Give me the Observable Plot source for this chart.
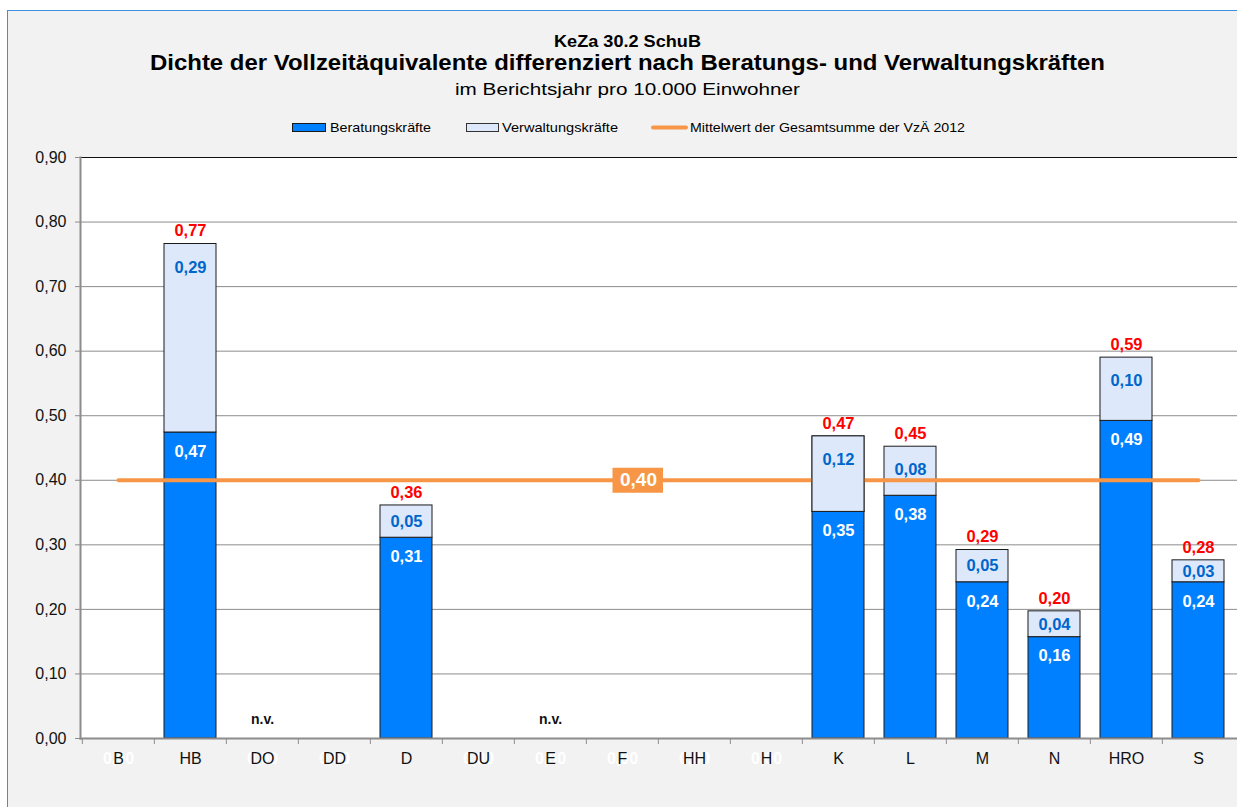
<!DOCTYPE html>
<html><head><meta charset="utf-8">
<script src="https://cdn.jsdelivr.net/npm/d3@7"></script>
<script src="https://cdn.jsdelivr.net/npm/@observablehq/plot@0.6"></script>
<style>
body{margin:0;background:#fff;width:1237px;height:807px;overflow:hidden;position:relative;font-family:"Liberation Sans",Arial,sans-serif}
#frame{position:absolute;left:7px;top:10px;right:-5px;bottom:-5px;background:#f2f2f2;border-top:1px solid #3d8fe0;border-left:1px solid #3d8fe0}
#head{position:absolute;left:0;top:0}
#chart{position:absolute;left:0;top:140px}
</style></head>
<body>
<div id="frame"></div>
<svg id="head" width="1237" height="140"></svg>
<div id="chart"></div>
<script>
// ---- data ----
const categories = ["B","HB","DO","DD","D","DU","E","F","HH","H","K","L","M","N","HRO","S"];
const beratung   = [0,0.474,0,0,0.311,0,0,0,0,0,0.351,0.376,0.242,0.157,0.492,0.242];
const verwaltung = [0,0.292,0,0,0.050,0,0,0,0,0,0.117,0.076,0.050,0.040,0.098,0.034];
const notAvailable = ["DO","E"];
const meanTotal2012 = 0.40;
const meanLabelCategory = "F";
const yTicks = [0,0.1,0.2,0.3,0.4,0.5,0.6,0.7,0.8,0.9];
const seriesNames = ["Beratungskräfte","Verwaltungskräfte","Mittelwert der Gesamtsumme der VzÄ 2012"];
const titleLines = ["KeZa 30.2 SchuB","Dichte der Vollzeitäquivalente differenziert nach Beratungs- und Verwaltungskräften","im Berichtsjahr pro 10.000 Einwohner"];

// ---- derived tables ----
const fmt = v => d3.format(".2f")(v).replace(".", ",");
const rows = categories.flatMap((c,i)=>[
  {cat:c, series:seriesNames[0], value:beratung[i]},
  {cat:c, series:seriesNames[1], value:verwaltung[i]}
]).filter(d=>d.value>0);
const totals = categories.map((c,i)=>({cat:c, b:beratung[i], v:verwaltung[i], total:beratung[i]+verwaltung[i]}));

const BLUE="#0080ff", LIGHT="#dde8fb", ORANGE="#f79646", EDGE="#1a1a1a", GRID="#8c8c8c";
const W=1237, mL=80, mR=0, n=categories.length;
const step=(W-mL-mR)/n;
const pad=0.274;

// ---- header (titles + legend) ----
const head = d3.select("#head");
const tl = [[titleLines[0],47,16.5,147,"bold"],[titleLines[1],70,22,955,"bold"],[titleLines[2],95,17,345,"normal"]];
tl.forEach(([t,y,fs,len,fw])=>{
  head.append("text").attr("x",627.5).attr("y",y).attr("text-anchor","middle")
   .attr("font-size",fs).attr("font-weight",fw).attr("fill","#000")
   .attr("textLength",len).attr("lengthAdjust","spacingAndGlyphs").text(t);
});
const lg = head.append("g").attr("font-size",13.5).attr("fill","#000");
lg.append("rect").attr("x",292.5).attr("y",123.5).attr("width",33).attr("height",8).attr("fill",BLUE).attr("stroke",EDGE);
lg.append("text").attr("x",330).attr("y",132).attr("textLength",101).attr("lengthAdjust","spacingAndGlyphs").text(seriesNames[0]);
lg.append("rect").attr("x",466.5).attr("y",123.5).attr("width",32).attr("height",8).attr("fill",LIGHT).attr("stroke","#333");
lg.append("text").attr("x",502).attr("y",132).attr("textLength",116).attr("lengthAdjust","spacingAndGlyphs").text(seriesNames[1]);
lg.append("line").attr("x1",653).attr("x2",686).attr("y1",127.5).attr("y2",127.5).attr("stroke",ORANGE).attr("stroke-width",4).attr("stroke-linecap","round");
lg.append("text").attr("x",690).attr("y",132).attr("textLength",275).attr("lengthAdjust","spacingAndGlyphs").text(seriesNames[2]);

// ---- chart ----
const chart = Plot.plot({
  width: W, height: 667,
  marginLeft: mL, marginRight: mR, marginTop: 17, marginBottom: 69,
  style: {fontFamily: "'Liberation Sans', Arial, sans-serif", fontSize: "16px", background: "transparent", overflow: "visible"},
  x: {domain: categories, paddingInner: pad, paddingOuter: pad/2, label: null},
  y: {domain: [0, 0.9], label: null},
  color: {domain: seriesNames.slice(0,2), range: [BLUE, LIGHT]},
  marks: [
    Plot.frame({fill: "white", stroke: null}),
    Plot.gridY(yTicks, {stroke: GRID, strokeOpacity: 1, strokeWidth: 1}),
    Plot.barY(rows, {x: "cat", y: "value", fill: "series", stroke: EDGE, strokeWidth: 1}),
    Plot.lineY(categories, {x: d=>d, y: ()=>meanTotal2012, stroke: ORANGE, strokeWidth: 4}),
    Plot.barY(totals.filter(d=>d.cat==="K"), {x: "cat", y1: "b", y2: "total", fill: LIGHT, stroke: EDGE, strokeWidth: 1}),
    Plot.tickY([meanTotal2012], {x: ()=>meanLabelCategory, y: d=>d, stroke: ORANGE, strokeWidth: 25, insetLeft: 16.5, insetRight: -15}),
    Plot.text([meanTotal2012], {x: ()=>meanLabelCategory, y: d=>d, text: d=>fmt(d), dx: 16, fill: "white", fontWeight: "bold", fontSize: 19}),
    Plot.ruleY([0.9], {stroke: "#111", strokeWidth: 1}),
    Plot.frame({anchor: "left", stroke: GRID, strokeWidth: 2}),
    Plot.frame({anchor: "bottom", stroke: GRID, strokeWidth: 2}),
    Plot.axisY(yTicks, {tickFormat: fmt, tickSize: 5, tickPadding: 9, stroke: GRID, fill: "#111", fontSize: 16}),
    Plot.axisX(categories, {tickSize: 6, tickFormat: ()=>"", dx: -step/2, stroke: GRID}),
    Plot.text(totals.filter(d=>d.total===0), {x: "cat", y: ()=>0, text: d=>fmt(d.total), dy: 20, fill: "white", fontWeight: "bold", fontSize: 16}),
    Plot.axisX(categories, {tickSize: 0, tickPadding: 14, fill: "#111", fontSize: 16}),
    Plot.text(notAvailable, {x: d=>d, y: ()=>0, text: ()=>"n.v.", dy: -19, fill: "#111", fontWeight: "bold", fontSize: 14}),
    Plot.text(totals.filter(d=>d.total>0), {x: "cat", y: "total", text: d=>fmt(d.total), dy: -13, fill: "#ff0000", fontWeight: "bold", fontSize: 16.5}),
    Plot.text(totals.filter(d=>d.b>0), {x: "cat", y: "b", text: d=>fmt(d.b), dy: 19, fill: "white", fontWeight: "bold", fontSize: 16.5}),
    Plot.text(totals.filter(d=>d.v>0), {x: "cat", y: d=>Math.max((d.b+d.total)/2, d.total-0.036), text: d=>fmt(d.v), fill: "#0066cc", fontWeight: "bold", fontSize: 16.5})
  ]
});
document.getElementById("chart").appendChild(chart);
</script>
</body></html>
